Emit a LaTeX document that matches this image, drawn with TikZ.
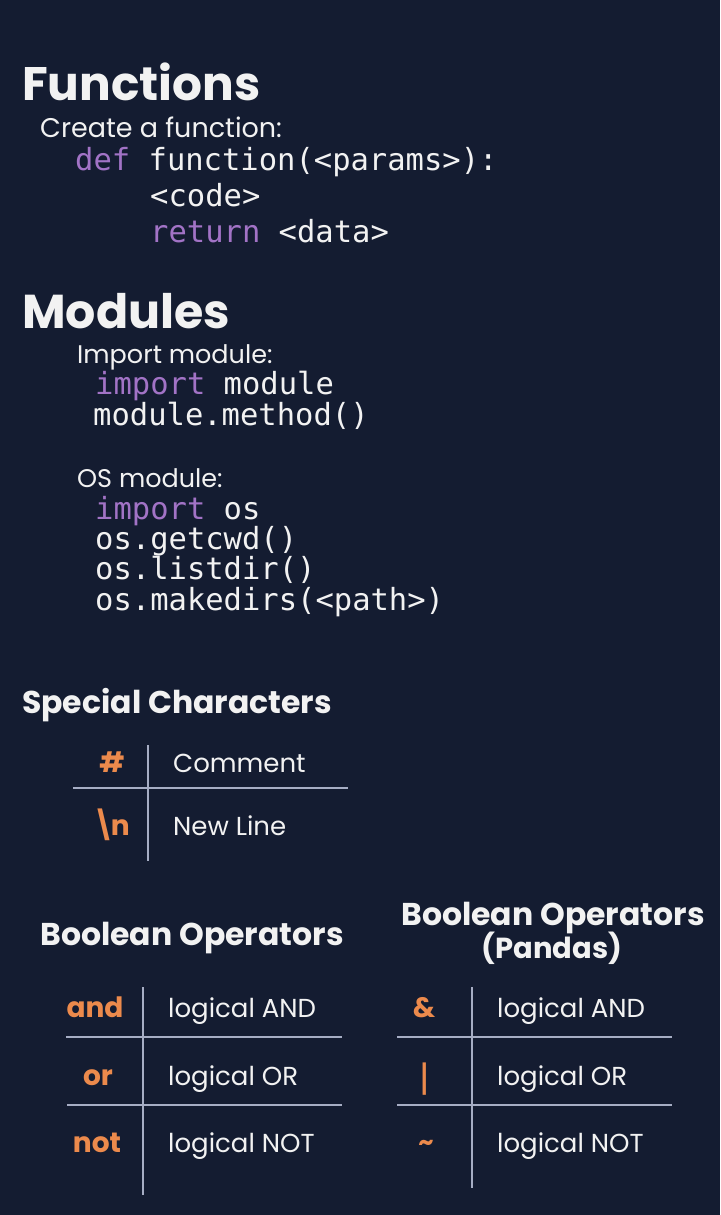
\documentclass[tikz,border=0pt]{standalone}
\usepackage{fontspec}
\setmainfont{Poppins}
\newfontfamily\codefont{DejaVu Sans Mono}
\definecolor{bg}{HTML}{141C31}
\definecolor{txt}{HTML}{F2F2F2}
\definecolor{kw}{HTML}{A273C6}
\definecolor{op}{HTML}{EC8A4C}
\definecolor{rule}{HTML}{A6ADC4}
\begin{document}
\begin{tikzpicture}[x=1pt,y=-1pt,
  every node/.style={inner sep=0pt,text=txt},
  bigtitle/.style={anchor=base west,font=\fontsize{47}{50}\selectfont\bfseries},
  subtitle/.style={font=\fontsize{31.5}{34}\selectfont\bfseries},
  label/.style={anchor=base west,font=\fontsize{25.5}{28}\selectfont},
  code/.style={anchor=base west,font=\fontsize{30.5}{32}\codefont},
  cell/.style={anchor=base west,font=\fontsize{26}{28}\selectfont},
  opcell/.style={anchor=base,text=op,font=\fontsize{28}{30}\selectfont\bfseries},
  tabrule/.style={draw=rule,line width=1.6pt}]
\fill[bg] (0,0) rectangle (720,1215);
\useasboundingbox (0,0) rectangle (720,1215);
% Functions
\node[bigtitle] (fn) at (22,100) {Functions};
\node[label,font=\fontsize{27}{30}\selectfont] (fnl) at (40,137) {Create a function:};
\node[code] (c1) at (75,170) {{\color{kw}def} function(<params>):};
\node[code] (c2) at (150,206) {<code>};
\node[code] (c3) at (150,242) {{\color{kw}return} <data>};
% Modules
\node[bigtitle,font=\fontsize{47.5}{50}\selectfont\bfseries] (md) at (22,328) {Modules};
\node[label] (mdl) at (77,363) {Import module:};
\node[code] (m1) at (95,394) {{\color{kw}import} module};
\node[code] (m2) at (93,425) {module.method()};
\node[label] (osl) at (77,487) {OS module:};
\node[code] (o1) at (95,519) {{\color{kw}import} os};
\node[code] (o2) at (95,549) {os.getcwd()};
\node[code] (o3) at (95,579) {os.listdir()};
\node[code] (o4) at (95,610) {os.makedirs(<path>)};
% Special characters
\node[subtitle,anchor=base west] (sc) at (22,713) {Special Characters};
\coordinate (sv1) at (148,745);
\coordinate (sv2) at (148,861);
\coordinate (sh1) at (73,788);
\coordinate (sh2) at (348,788);
\draw[tabrule] (sv1) -- (sv2);
\draw[tabrule] (sh1) -- (sh2);
\node[opcell] (s1) at (112,772) {\#};
\node[cell] (s1t) at (173,772) {Comment};
\node[opcell] (s2) at (111,835) {\textbackslash\kern-4pt n};
\node[cell] (s2t) at (173,835) {New Line};
% Boolean operators
\node[subtitle,anchor=base] (bo) at (192,945) {Boolean Operators};
\coordinate (bv1) at (143,987);
\coordinate (bv2) at (143,1195);
\coordinate (bh1a) at (66,1037);
\coordinate (bh1b) at (342,1037);
\coordinate (bh2a) at (67,1105);
\coordinate (bh2b) at (342,1105);
\draw[tabrule] (bv1) -- (bv2);
\draw[tabrule] (bh1a) -- (bh1b);
\draw[tabrule] (bh2a) -- (bh2b);
\node[opcell] (b1) at (95,1017) {and};
\node[cell] (b1t) at (168,1017) {logical AND};
\node[opcell] (b2) at (98,1085) {or};
\node[cell] (b2t) at (168,1085) {logical OR};
\node[opcell] (b3) at (97,1152) {not};
\node[cell] (b3t) at (168,1152) {logical NOT};
% Boolean operators (Pandas)
\node[subtitle,anchor=base] (bp) at (553,925) {Boolean Operators};
\node[subtitle,anchor=base,font=\fontsize{29}{32}\selectfont\bfseries] (bp2) at (552,958) {(Pandas)};
\coordinate (pv1) at (472,987);
\coordinate (pv2) at (472,1188);
\coordinate (ph1a) at (397,1037);
\coordinate (ph1b) at (672,1037);
\coordinate (ph2a) at (397,1105);
\coordinate (ph2b) at (672,1105);
\draw[tabrule] (pv1) -- (pv2);
\draw[tabrule] (ph1a) -- (ph1b);
\draw[tabrule] (ph2a) -- (ph2b);
\node[opcell] (p1) at (424,1017) {\&};
\node[opcell,font=\fontsize{36}{38}\selectfont] (p2) at (425,1091) {|};
\node[opcell,font=\fontsize{24}{26}\selectfont\bfseries] (p3) at (426,1150) {\textasciitilde};
\node[cell] (p1t) at (497,1017) {logical AND};
\node[cell] (p2t) at (497,1085) {logical OR};
\node[cell] (p3t) at (497,1152) {logical NOT};
\end{tikzpicture}
\end{document}
